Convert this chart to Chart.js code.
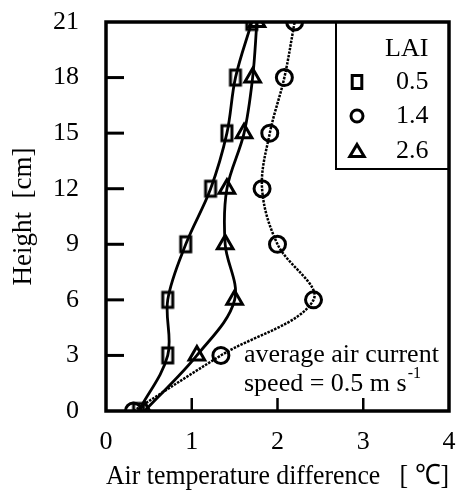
<!DOCTYPE html>
<html>
<head>
<meta charset="utf-8">
<script src="https://cdn.jsdelivr.net/npm/chart.js@4.4.1/dist/chart.umd.min.js"></script>
<style>
body{margin:0;background:#fff}
#wrap{width:465px;height:497px}
</style>
</head>
<body>
<div id="wrap"><canvas id="mycanvas"></canvas></div>
<script>
// heights [cm] and air temperature difference [C] per LAI
var heights = [0, 3, 6, 9, 12, 15, 18, 21];
var lai_05 = [0.38, 0.72, 0.72, 0.93, 1.22, 1.41, 1.51, 1.70];
var lai_14 = [0.32, 1.34, 2.42, 2.00, 1.82, 1.91, 2.08, 2.20];
var lai_26 = [0.45, 1.06, 1.50, 1.39, 1.41, 1.61, 1.71, 1.76];
var laiLabels = ["0.5", "1.4", "2.6"];
var xTicks = [0, 1, 2, 3, 4];
var yTicks = [0, 3, 6, 9, 12, 15, 18, 21];
var note = ["average air current", "speed = 0.5 m s"];

var serif = "'Liberation Serif', 'Times New Roman', serif";

function pts(xs){
	var out = [];
	for (var i in heights) {
		out.push({x: xs[i], y: heights[i]});
	}
	return out;
}

// tall open rectangle used for LAI 0.5
function rectMarker(w, h, lw){
	var c = document.createElement("canvas");
	c.width = w + lw * 2; c.height = h + lw * 2;
	var g = c.getContext("2d");
	g.strokeStyle = "#000"; g.lineWidth = lw;
	g.strokeRect(lw, lw, w, h);
	return c;
}
var sq = rectMarker(10, 15, 3);

function drawMarker(ctx, kind, x, y, s){
	ctx.save();
	ctx.strokeStyle = "#000";
	ctx.lineWidth = 3;
	ctx.beginPath();
	if (kind == 0) {
		ctx.rect(x - s * 0.4, y - s * 0.55, s * 0.8, s * 1.1);
	} else if (kind == 1) {
		ctx.arc(x, y, s * 0.5, 0, Math.PI * 2);
	} else {
		ctx.moveTo(x, y - s * 0.55);
		ctx.lineTo(x + s * 0.6, y + s * 0.45);
		ctx.lineTo(x - s * 0.6, y + s * 0.45);
		ctx.closePath();
	}
	ctx.stroke();
	ctx.restore();
}

var frame = {
	id: "frame",
	afterDraw: function(chart){
		var ctx = chart.ctx, a = chart.chartArea;
		var xs = chart.scales.x, ys = chart.scales.y;
		ctx.save();
		ctx.strokeStyle = "#000";
		// inward ticks
		ctx.lineWidth = 3;
		for (var i = 1; i < yTicks.length - 1; i++) {
			var py = ys.getPixelForValue(yTicks[i]);
			ctx.beginPath(); ctx.moveTo(a.left, py); ctx.lineTo(a.left + 18, py); ctx.stroke();
		}
		ctx.lineWidth = 2.5;
		for (var j = 1; j < xTicks.length - 1; j++) {
			var px = xs.getPixelForValue(xTicks[j]);
			ctx.beginPath(); ctx.moveTo(px, a.bottom); ctx.lineTo(px, a.bottom - 13); ctx.stroke();
		}
		// legend box
		ctx.lineWidth = 2;
		ctx.strokeRect(336, a.top, a.right - 336, 169 - a.top);
		ctx.fillStyle = "#000";
		ctx.font = "26px " + serif;
		ctx.textBaseline = "middle";
		ctx.textAlign = "left";
		ctx.fillText("LAI", 385, 49);
		var rows = [82, 116, 151];
		for (var k = 0; k < 3; k++) {
			drawMarker(ctx, k, 357, rows[k], 12);
			ctx.fillText(laiLabels[k], 396, rows[k]);
		}
		// note
		ctx.fillText(note[0], 244, 355);
		ctx.fillText(note[1], 244, 384);
		var w = ctx.measureText(note[1]).width;
		ctx.font = "16px " + serif;
		ctx.fillText("-1", 244 + w + 1, 374);
		// frame
		ctx.lineWidth = 3.5;
		ctx.strokeRect(a.left, a.top, a.right - a.left, a.bottom - a.top);
		ctx.restore();
	}
};

var chartdata = {
	datasets: [
		{
			label: "0.5",
			data: pts(lai_05),
			borderColor: "#000",
			borderWidth: 2.8,
			tension: 0.35,
			pointStyle: sq,
			fill: false
		},
		{
			label: "1.4",
			data: pts(lai_14),
			borderColor: "#000",
			borderWidth: 2.5,
			borderDash: [2.5, 1.2],
			tension: 0.35,
			pointStyle: "circle",
			pointRadius: 8,
			pointBorderWidth: 3,
			pointBorderColor: "#000",
			pointBackgroundColor: "rgba(0,0,0,0)",
			fill: false
		},
		{
			label: "2.6",
			data: pts(lai_26),
			borderColor: "#000",
			borderWidth: 2.8,
			tension: 0.35,
			pointStyle: "triangle",
			pointRadius: 9,
			pointBorderWidth: 3,
			pointBorderColor: "#000",
			pointBackgroundColor: "rgba(0,0,0,0)",
			fill: false
		}
	]
};

Chart.defaults.font.family = serif;
Chart.defaults.color = "#000";

var LineGraph = new Chart(document.getElementById("mycanvas"), {
	type: "scatter",
	data: chartdata,
	plugins: [frame],
	options: {
		responsive: true,
		maintainAspectRatio: false,
		animation: false,
		showLine: true,
		layout: {padding: {top: 22, right: 16, left: 0, bottom: 0}},
		plugins: {legend: {display: false}, tooltip: {enabled: false}},
		scales: {
			x: {
				type: "linear",
				min: 0, max: 4,
				afterBuildTicks: function(s){ s.ticks = xTicks.map(function(v){ return {value: v}; }); },
				afterFit: function(s){ s.height = 86; s.paddingLeft = 0; s.paddingRight = 0; },
				grid: {display: false, drawTicks: false},
				border: {display: false},
				ticks: {font: {size: 26}, padding: 16, color: "#000"},
				title: {display: true, text: "Air temperature difference   [ \u2103]", font: {size: 28}, color: "#000", padding: {top: 1}}
			},
			y: {
				type: "linear",
				min: 0, max: 21,
				afterBuildTicks: function(s){ s.ticks = yTicks.map(function(v){ return {value: v}; }); },
				afterFit: function(s){ s.width = 106; s.paddingTop = 0; s.paddingBottom = 0; },
				grid: {display: false, drawTicks: false},
				border: {display: false},
				ticks: {font: {size: 26}, padding: 27, color: "#000"},
				title: {display: true, text: "Height  [cm]", font: {size: 27}, color: "#000", padding: {top: 8}}
			}
		}
	}
});
</script>
</body>
</html>
